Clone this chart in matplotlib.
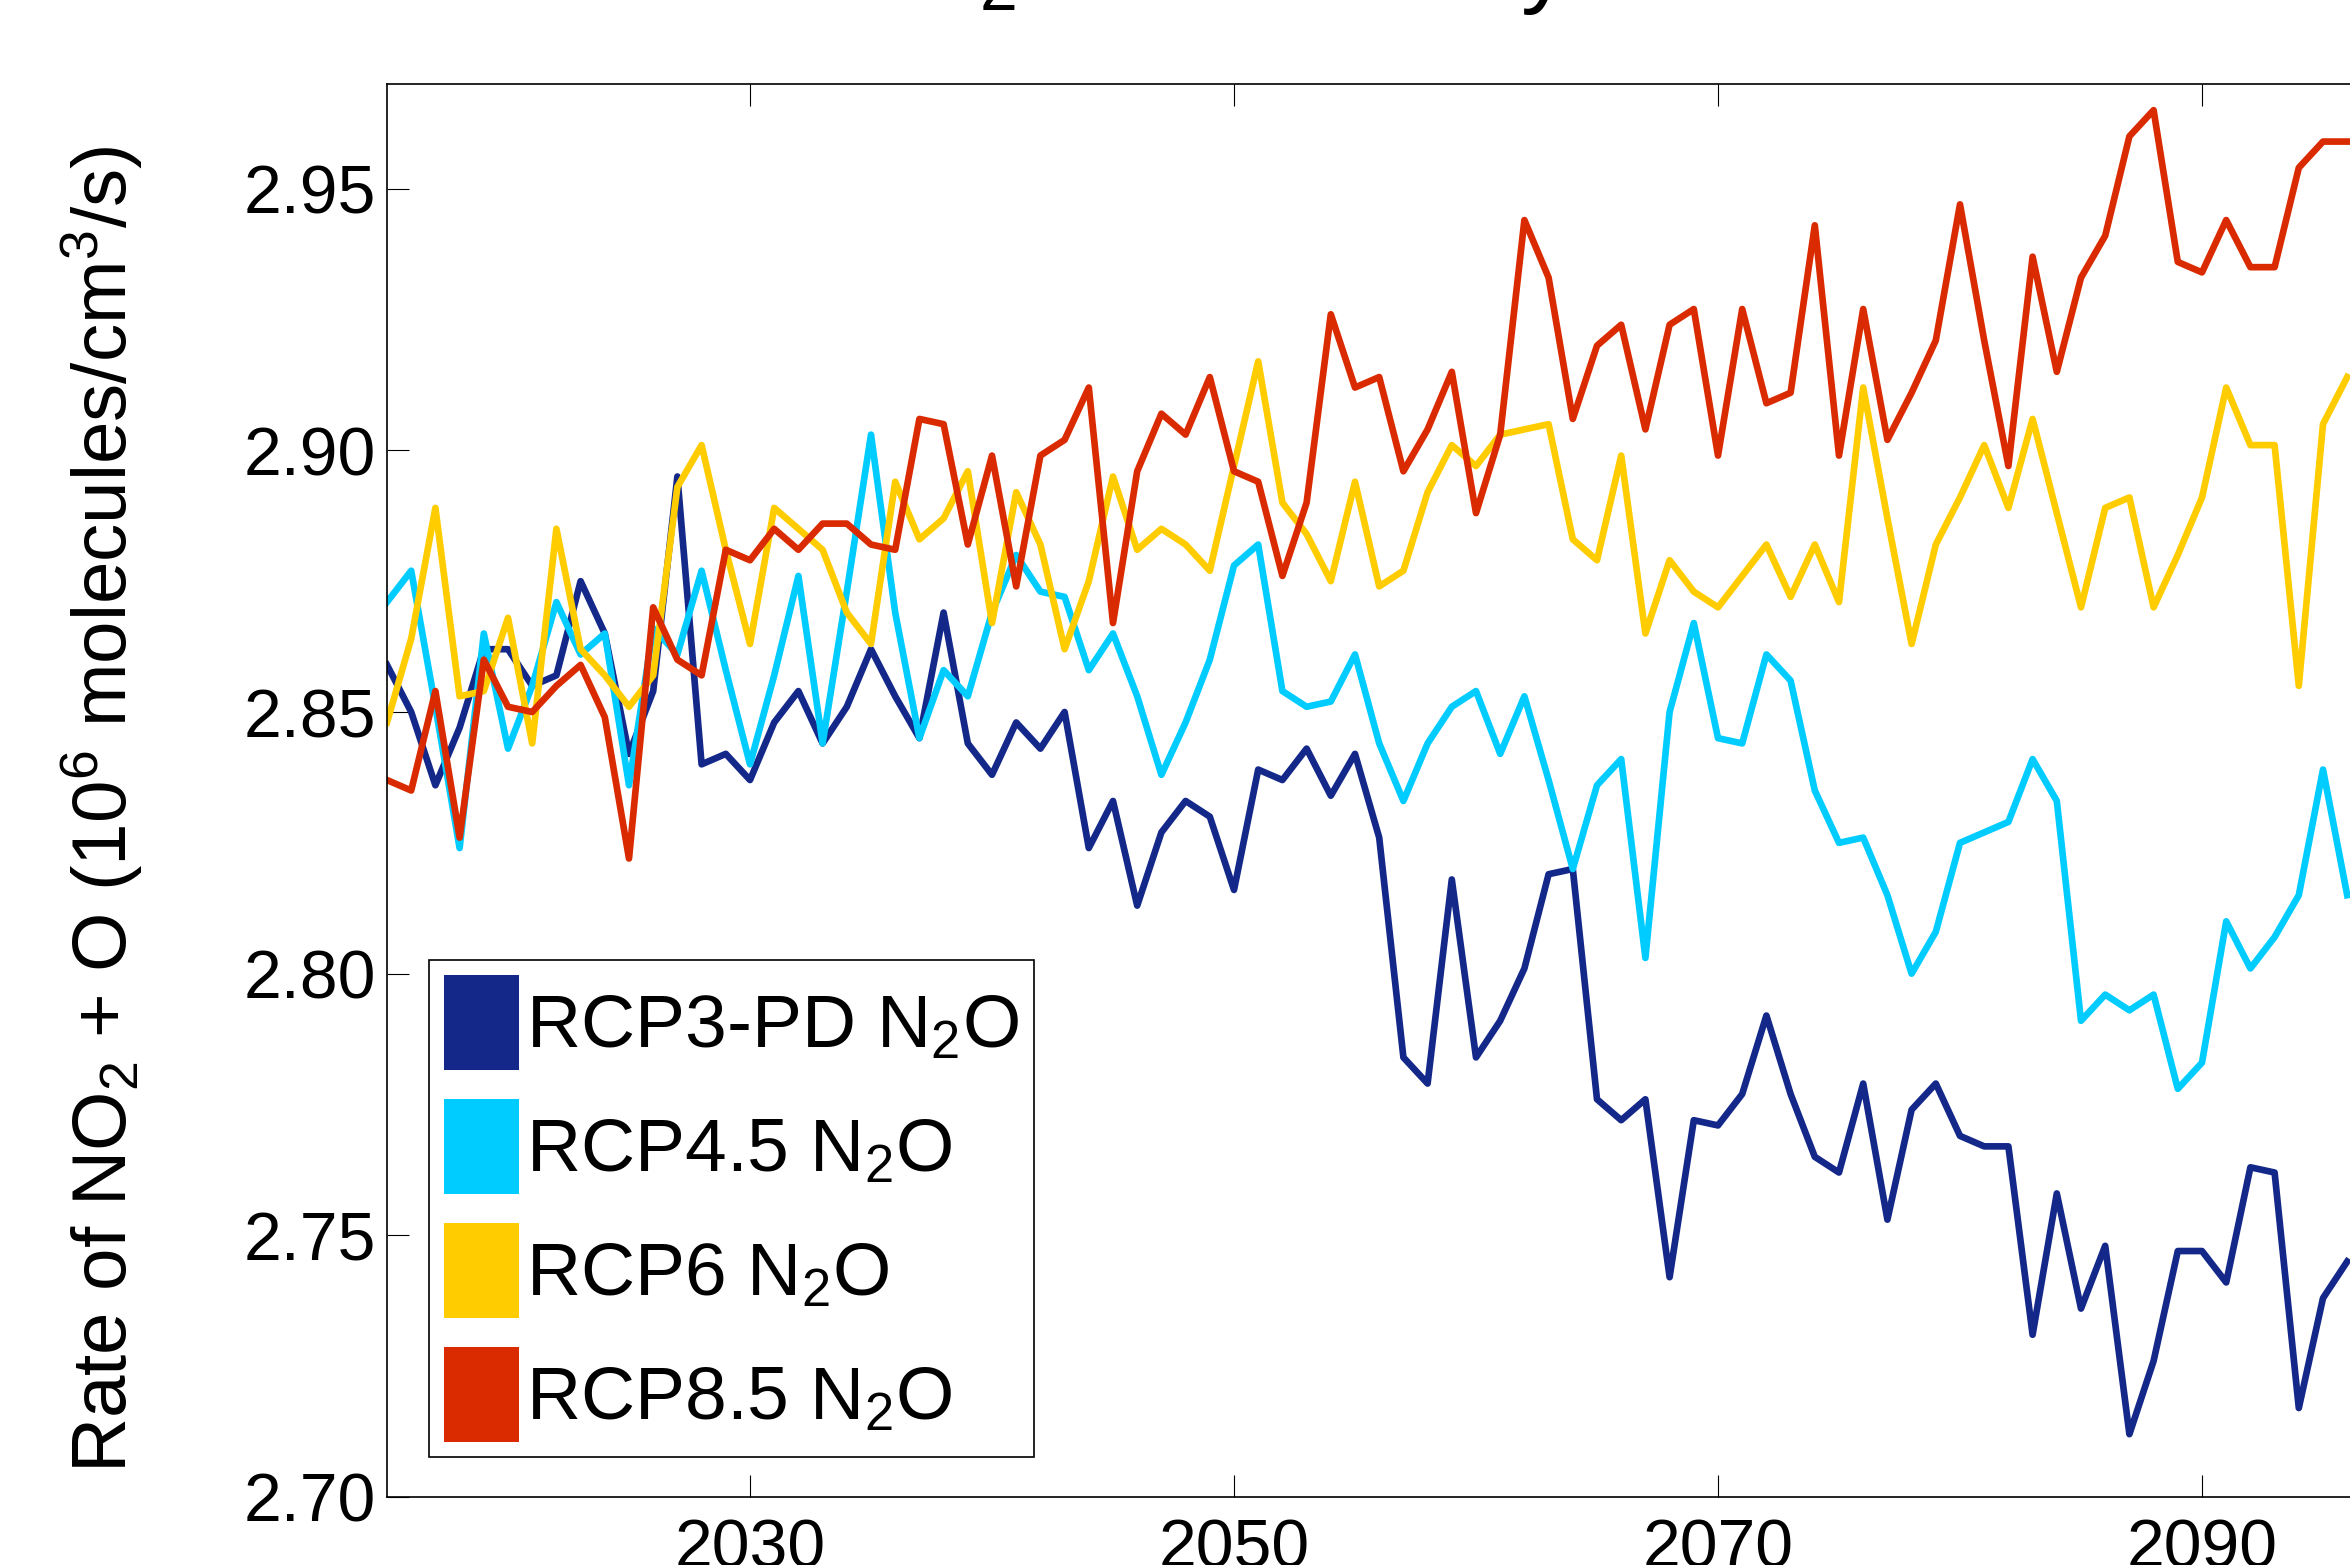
import numpy as np
import matplotlib.pyplot as plt
from matplotlib.patches import Patch
from matplotlib.ticker import FormatStrFormatter

# ---- data ----
years = np.arange(2015, 2097)

rcp3pd = [2.859, 2.850, 2.836, 2.847, 2.862, 2.862, 2.855, 2.857, 2.875, 2.865,
          2.842, 2.854, 2.895, 2.840, 2.842, 2.837, 2.848, 2.854, 2.844, 2.851,
          2.862, 2.853, 2.845, 2.869, 2.844, 2.838, 2.848, 2.843, 2.850, 2.824,
          2.833, 2.813, 2.827, 2.833, 2.830, 2.816, 2.839, 2.837, 2.843, 2.834,
          2.842, 2.826, 2.784, 2.779, 2.818, 2.784, 2.791, 2.801, 2.819, 2.820,
          2.776, 2.772, 2.776, 2.742, 2.772, 2.771, 2.777, 2.792, 2.777, 2.765,
          2.762, 2.779, 2.753, 2.774, 2.779, 2.769, 2.767, 2.767, 2.731, 2.758,
          2.736, 2.748, 2.712, 2.726, 2.747, 2.747, 2.741, 2.763, 2.762, 2.717,
          2.738, 2.745]

rcp45 = [2.871, 2.877, 2.851, 2.824, 2.865, 2.843, 2.855, 2.871, 2.861, 2.865,
         2.836, 2.866, 2.861, 2.877, 2.858, 2.840, 2.857, 2.876, 2.844, 2.873,
         2.903, 2.869, 2.845, 2.858, 2.853, 2.869, 2.880, 2.873, 2.872, 2.858,
         2.865, 2.853, 2.838, 2.848, 2.860, 2.878, 2.882, 2.854, 2.851, 2.852,
         2.861, 2.844, 2.833, 2.844, 2.851, 2.854, 2.842, 2.853, 2.837, 2.820,
         2.836, 2.841, 2.803, 2.850, 2.867, 2.845, 2.844, 2.861, 2.856, 2.835,
         2.825, 2.826, 2.815, 2.800, 2.808, 2.825, 2.827, 2.829, 2.841, 2.833,
         2.791, 2.796, 2.793, 2.796, 2.778, 2.783, 2.810, 2.801, 2.807, 2.815,
         2.839, 2.815]

rcp6 = [2.848, 2.864, 2.889, 2.853, 2.854, 2.868, 2.844, 2.885, 2.862, 2.857,
        2.851, 2.857, 2.893, 2.901, 2.881, 2.863, 2.889, 2.885, 2.881, 2.869,
        2.863, 2.894, 2.883, 2.887, 2.896, 2.867, 2.892, 2.882, 2.862, 2.875,
        2.895, 2.881, 2.885, 2.882, 2.877, 2.897, 2.917, 2.890, 2.884, 2.875,
        2.894, 2.874, 2.877, 2.892, 2.901, 2.897, 2.903, 2.904, 2.905, 2.883,
        2.879, 2.899, 2.865, 2.879, 2.873, 2.870, 2.876, 2.882, 2.872, 2.882,
        2.871, 2.912, 2.887, 2.863, 2.882, 2.891, 2.901, 2.889, 2.906, 2.888,
        2.870, 2.889, 2.891, 2.870, 2.880, 2.891, 2.912, 2.901, 2.901, 2.855,
        2.905, 2.914]

rcp85 = [2.837, 2.835, 2.854, 2.826, 2.860, 2.851, 2.850, 2.855, 2.859, 2.849,
         2.822, 2.870, 2.860, 2.857, 2.881, 2.879, 2.885, 2.881, 2.886, 2.886,
         2.882, 2.881, 2.906, 2.905, 2.882, 2.899, 2.874, 2.899, 2.902, 2.912,
         2.867, 2.896, 2.907, 2.903, 2.914, 2.896, 2.894, 2.876, 2.890, 2.926,
         2.912, 2.914, 2.896, 2.904, 2.915, 2.888, 2.903, 2.944, 2.933, 2.906,
         2.920, 2.924, 2.904, 2.924, 2.927, 2.899, 2.927, 2.909, 2.911, 2.943,
         2.899, 2.927, 2.902, 2.911, 2.921, 2.947, 2.921, 2.897, 2.937, 2.915,
         2.933, 2.941, 2.960, 2.965, 2.936, 2.934, 2.944, 2.935, 2.935, 2.954,
         2.959, 2.959]

series = [rcp3pd, rcp45, rcp6, rcp85]
labels = ['RCP3-PD N$_2$O', 'RCP4.5 N$_2$O', 'RCP6 N$_2$O', 'RCP8.5 N$_2$O']
colors = ['#14288A', '#00CCFF', '#FFCC00', '#DA2A00']
xticks = [2030, 2050, 2070, 2090]
yticks = [2.70, 2.75, 2.80, 2.85, 2.90, 2.95]

# ---- fonts ----
plt.rcParams['font.family'] = ['Liberation Sans', 'DejaVu Sans']
plt.rcParams['mathtext.fontset'] = 'custom'
plt.rcParams['mathtext.rm'] = 'Liberation Sans'
plt.rcParams['mathtext.it'] = 'Liberation Sans:italic'
plt.rcParams['mathtext.bf'] = 'Liberation Sans:bold'

W, H = 2350, 1565
fig = plt.figure(figsize=(W / 100, H / 100), dpi=100)
# axes runs past the right edge of the picture (the reference is cropped)
ax = fig.add_axes([387 / W, 1 - 1497 / H, (2444 - 387) / W, (1497 - 84) / H])

for vals, col, lab in zip(series, colors, labels):
    ax.plot(years, vals, color=col, lw=4.8, solid_joinstyle='round', label=lab)

ax.set_xlim(2015, 2100)
ax.set_ylim(2.70, 2.97)
ax.set_xticks(xticks)
ax.set_yticks(yticks)
ax.yaxis.set_major_formatter(FormatStrFormatter('%.2f'))
ax.tick_params(direction='in', length=16, width=0.8, top=True, right=True,
               labelsize=49)
ax.tick_params(axis='x', pad=15)
ax.tick_params(axis='y', pad=8)
for sp in ax.spines.values():
    sp.set_linewidth(1.2)

# y label
ax.set_ylabel('Rate of NO$_2$ + O (10$^6$ molecules/cm$^3$/s)', fontsize=55)
ax.yaxis.set_label_coords(127 / W, 1 - 809 / H, transform=fig.transFigure)
ax.yaxis.label.set_rotation_mode('anchor')
ax.yaxis.label.set_va('baseline')
ax.yaxis.label.set_ha('center')

# title, cut off by the top edge: only the subscript and descender show
fig.text(833 / W, 1 + 5 / H, 'NO$_2$ + O Rate by Year', fontsize=70,
         ha='left', va='baseline')

# legend with solid colour patches
handles = [Patch(facecolor=c, edgecolor='none') for c in colors]
fs = 54
px = fs * 100 / 72
# matplotlib: patch height = fs * (0.65 * handleheight + 0.245)
hh = (95 / px - 0.245) / 0.65
leg = ax.legend(handles, labels, loc='upper left',
                bbox_to_anchor=(429 / W, 1 - 960 / H),
                bbox_transform=fig.transFigure, fontsize=fs,
                frameon=True, fancybox=False, framealpha=1, edgecolor='black',
                borderaxespad=0, borderpad=0.2,
                handlelength=75 / px, handleheight=hh,
                handletextpad=7 / px, labelspacing=29 / px)
leg.get_frame().set_linewidth(1.2)

fig.savefig('out.png', dpi=100)
